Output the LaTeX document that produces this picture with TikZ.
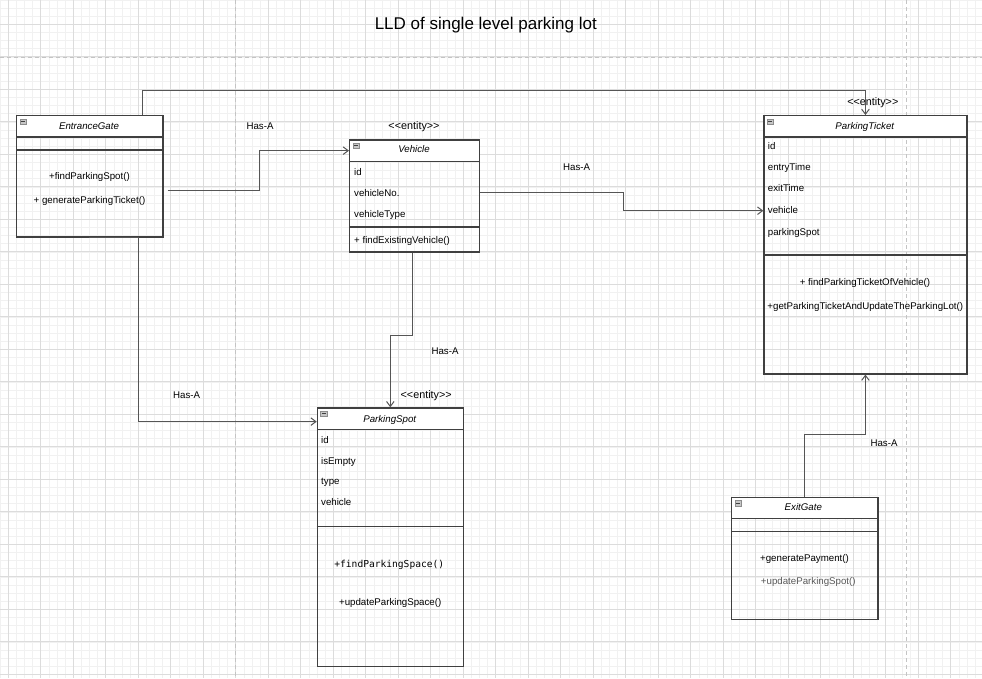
\documentclass[tikz,border=0pt]{standalone}
\usepackage{fontspec}
\setmainfont{Liberation Sans}[Ligatures=TeXOff]
\newfontfamily\codefont{DejaVu Sans Mono}
\usetikzlibrary{arrows.meta,calc}

\definecolor{boxline}{HTML}{404040}
\definecolor{linkline}{HTML}{555555}
\definecolor{majorgrid}{HTML}{DCDCDC}
\definecolor{minorgrid}{HTML}{F1F1F1}
\definecolor{pagebreak}{HTML}{C4C4C4}

\begin{document}
\begin{tikzpicture}[x=1pt, y=-1pt,
    box/.style={draw=boxline, line width=1.25pt, anchor=north west, inner sep=0pt, minimum width=#1},
    head/.style={box=#1, fill=white, minimum height=21.4pt},
    divider/.style={draw=boxline, line width=1.25pt},
    icon/.style={draw=black!45, fill=black!22, minimum width=6.5pt, minimum height=5.5pt, inner sep=0pt,
        path picture={\draw[black!75, line width=0.8pt] ([xshift=1.2pt]path picture bounding box.west) -- ([xshift=-1.2pt]path picture bounding box.east);}},
    txt/.style={inner sep=0pt, text height=7pt, text depth=1pt, font=\fontsize{9.7}{11}\selectfont},
    cls/.style={txt, font=\fontsize{9.7}{11}\selectfont\itshape},
    attr/.style={txt, anchor=west},
    stereo/.style={inner sep=0pt, text height=7.5pt, text depth=1pt, font=\fontsize{10.8}{12}\selectfont},
    link/.style={draw=linkline, line width=1pt, -{Straight Barb[length=5pt, width=7.5pt]}},
]
    % canvas and grid
    \useasboundingbox (0,0) rectangle (982,678);
    \clip (0,0) rectangle (982,678);
    \fill[white] (0,0) rectangle (982,678);
    \foreach \k in {-1,...,120}
        \draw[minorgrid, line width=0.6pt] ({8.2+8.125*\k},0) -- ({8.2+8.125*\k},678);
    \foreach \k in {-3,...,81}
        \draw[minorgrid, line width=0.6pt] (0,{24.3+8.125*\k}) -- (982,{24.3+8.125*\k});
    \foreach \k in {0,...,30}
        \draw[majorgrid, line width=0.8pt] ({8.2+32.5*\k},0) -- ({8.2+32.5*\k},678);
    \foreach \k in {-1,...,20}
        \draw[majorgrid, line width=0.8pt] (0,{24.3+32.5*\k}) -- (982,{24.3+32.5*\k});
    \draw[pagebreak, line width=0.9pt, dash pattern=on 4pt off 3pt] (235.5,0) -- (235.5,678);
    \draw[pagebreak, line width=0.9pt, dash pattern=on 4pt off 3pt] (906.7,0) -- (906.7,678);
    \draw[pagebreak, line width=0.9pt, dash pattern=on 4pt off 3pt] (0,57.7) -- (982,57.7);

    % title
    \node[inner sep=0pt, font=\fontsize{17}{20}\selectfont] (title) at (485.8,25) {LLD of single level parking lot};

    % EntranceGate
    \node[box=146.3pt, minimum height=121.3pt] (eg) at (16,115) {};
    \node[head=146.3pt] (egh) at (16,115) {};
    \node[icon] (egi) at (23,121.5) {};
    \node[cls] (egt) at (89,126) {EntranceGate};
    \draw[divider] (16,150) -- (162.3,150);
    \node[txt] (egm1) at (89.5,176) {+findParkingSpot()};
    \node[txt] (egm2) at (89.5,200.7) {+ generateParkingTicket()};

    % Vehicle
    \node[stereo] (vs) at (414,126.7) {<<entity>>};
    \node[box=130pt, minimum height=112pt] (v) at (349,139.3) {};
    \node[head=130pt] (vh) at (349,139.3) {};
    \node[icon] (vi) at (356.3,145.7) {};
    \node[cls] (vt) at (414,149.5) {Vehicle};
    \node[attr] (va1) at (354,172) {id};
    \node[attr] (va2) at (354,193.3) {vehicleNo.};
    \node[attr] (va3) at (354,214) {vehicleType};
    \draw[divider] (349,227) -- (479,227);
    \node[attr] (vm1) at (354,240.7) {+ findExistingVehicle()};

    % ParkingTicket
    \node[stereo] (pts) at (872.8,102.7) {<<entity>>};
    \node[box=203pt, minimum height=258.3pt] (pt) at (763.3,115) {};
    \node[head=203pt] (pth) at (763.3,115) {};
    \node[icon] (pti) at (770.3,121.5) {};
    \node[cls] (ptt) at (864.8,126) {ParkingTicket};
    \node[attr] (pta1) at (767.7,146.7) {id};
    \node[attr] (pta2) at (767.7,167.7) {entryTime};
    \node[attr] (pta3) at (767.7,188.7) {exitTime};
    \node[attr] (ptveh) at (767.7,210.7) {vehicle};
    \node[attr] (pta5) at (767.7,232) {parkingSpot};
    \draw[divider] (763.3,255) -- (966.3,255);
    \node[txt] (ptm1) at (865,282.3) {+ findParkingTicketOfVehicle()};
    \node[txt] (ptm2) at (865.3,306) {+getParkingTicketAndUpdateTheParkingLot()};

    % ParkingSpot
    \node[stereo] (pss) at (426.2,395.3) {<<entity>>};
    \node[box=146pt, minimum height=258.4pt] (ps) at (316.7,407.3) {};
    \node[head=146pt] (psh) at (316.7,407.3) {};
    \node[icon] (psi) at (323.7,413.8) {};
    \node[cls] (pst) at (389.7,419) {ParkingSpot};
    \node[attr] (psa1) at (321,440) {id};
    \node[attr] (psa2) at (321,461) {isEmpty};
    \node[attr] (psa3) at (321,481.7) {type};
    \node[attr] (psa4) at (321,502.7) {vehicle};
    \draw[divider] (316.7,526.7) -- (462.7,526.7);
    \node[txt, font=\fontsize{9.6}{11}\selectfont\codefont] (psm1) at (389.3,564.3) {+findParkingSpace()};
    \node[txt] (psm2) at (390.2,602) {+updateParkingSpace()};

    % ExitGate
    \node[box=146.3pt, minimum height=122.3pt] (xg) at (731,496.7) {};
    \node[head=146.3pt] (xgh) at (731,496.7) {};
    \node[icon] (xgi) at (738,503.2) {};
    \node[cls] (xgt) at (803.3,507.5) {ExitGate};
    \draw[divider] (731,531.7) -- (877.3,531.7);
    \node[txt] (xgm1) at (804.5,558.3) {+generatePayment()};
    \node[txt, text=black!65] (xgm2) at (808.3,581.7) {+updateParkingSpot()};

    % associations
    \draw[link] ($(eg.north west)+(126,0)$) |- ($(pt.north)+(0,-25)$) -- (pt.north);
    \draw[link] ($(eg.north east)+(4,75)$) -- ++(92,0) |- (vh.west);
    \draw[link] ($(v.north east)+(0,53)$) -- ++(143,0) |- (pt.west |- ptveh);
    \draw[link] ([xshift=-2pt]v.south) -- ++(0,83) -| (ps.north);
    \draw[link] ($(eg.south west)+(73,0)$) -- ++(49,0) |- ([yshift=-3pt]psh.west);
    \draw[link] (xg.north) -- ++(0,-62) -| (pt.south);

    \node[txt] (l1) at (260,126.7) {Has-A};
    \node[txt] (l2) at (576.7,167.7) {Has-A};
    \node[txt] (l3) at (445,351) {Has-A};
    \node[txt] (l4) at (186.7,395.7) {Has-A};
    \node[txt] (l5) at (884,443) {Has-A};
\end{tikzpicture}
\end{document}
